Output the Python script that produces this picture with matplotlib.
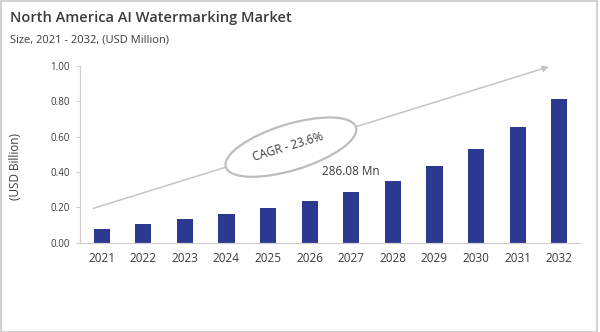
import numpy as np
import matplotlib.pyplot as plt
from matplotlib.patches import Ellipse, Rectangle
from matplotlib.transforms import ScaledTranslation

plt.rcParams['font.family'] = ['Open Sans', 'DejaVu Sans']

years = ['2021', '2022', '2023', '2024', '2025', '2026',
         '2027', '2028', '2029', '2030', '2031', '2032']
market = [0.079, 0.107, 0.136, 0.164, 0.198, 0.237,
          0.286, 0.348, 0.433, 0.531, 0.655, 0.813]
yticks = [0.0, 0.2, 0.4, 0.6, 0.8, 1.0]
label_year = '2027'
label_text = '286.08 Mn'
cagr_text = 'CAGR - 23.6%'

text_col = '#3b3b3b'
bar_col = '#2B3990'
axis_col = '#d0d0d0'

fig = plt.figure(figsize=(6, 3.32), dpi=100)
ax = fig.add_axes([0.1333, 0.269, 0.8334, 0.533])

x = np.arange(len(years))
ax.bar(x, market, width=0.39, color=bar_col, zorder=2)

ax.set_xlim(-0.52, 11.5)
ax.set_ylim(0, 1.0)
ax.set_xticks(x)
ax.set_xticklabels(years, fontsize=8.5, color=text_col)
ax.set_yticks(yticks)
ax.set_yticklabels([f'{v:.2f}' for v in yticks], fontsize=7, color=text_col)
ax.tick_params(axis='x', length=0, pad=7)
ax.tick_params(axis='y', length=3, width=0.8, color=axis_col, pad=4.5)
for s in ['top', 'right']:
    ax.spines[s].set_visible(False)
ax.spines['left'].set_color(axis_col)
ax.spines['bottom'].set_color(axis_col)
ax.spines['left'].set_linewidth(0.9)
ax.spines['bottom'].set_linewidth(0.9)
ax.set_ylabel('(USD Billion)', fontsize=8.5, color=text_col)
ax.yaxis.set_label_coords(-0.116, 0.433)

# growth arrow with the CAGR bubble on top of it
ax.annotate('', xy=(10.75, 0.994), xytext=(-0.2, 0.194),
            arrowprops=dict(arrowstyle='-|>', color='#c4c4c4', lw=1.1,
                            mutation_scale=9, shrinkA=0, shrinkB=0),
            zorder=1)
bubble_x, bubble_y = 4.55, 0.54
bubble_at = fig.dpi_scale_trans + ScaledTranslation(bubble_x, bubble_y, ax.transData)
ax.add_patch(Ellipse((0, 0), 1.36, 0.46, angle=17, transform=bubble_at,
                     facecolor='white', edgecolor='#bdbdbd', lw=1.6,
                     zorder=3, clip_on=False))
ax.text(bubble_x - 0.08, bubble_y, cagr_text, rotation=17, ha='center',
        va='center', fontsize=8.5, color=text_col, zorder=4,
        rotation_mode='anchor')

i = years.index(label_year)
ax.annotate(label_text, xy=(x[i], market[i]), xytext=(0, 14.5),
            textcoords='offset points', ha='center', va='center',
            fontsize=8.5, color=text_col)

fig.text(10 / 600, 1 - 18 / 332, 'North America AI Watermarking Market',
         fontsize=10.5, fontweight='semibold', color=text_col, va='center')
fig.text(10 / 600, 1 - 40 / 332, 'Size, 2021 - 2032, (USD Million)',
         fontsize=8, color=text_col, va='center')

fig.patches.append(Rectangle((0.5, 0.5), 596, 331, transform=None,
                             fill=False, edgecolor='#c8c8c8', lw=1.2))

fig.savefig('out.png', dpi=100)
